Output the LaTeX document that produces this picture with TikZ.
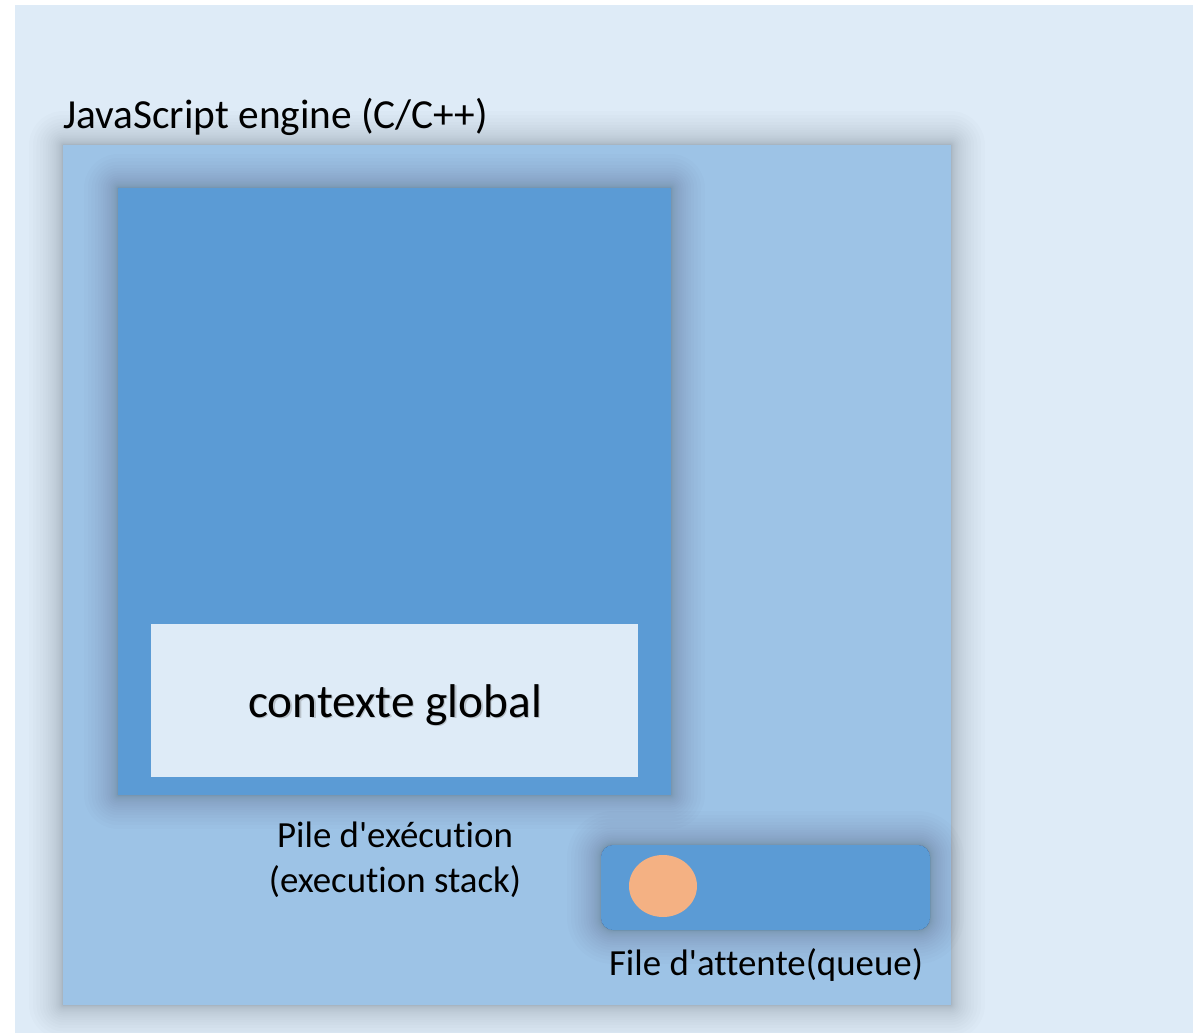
\documentclass[tikz,border=0pt]{standalone}
\usepackage{fontspec}
\setmainfont{Carlito}[Ligatures={NoCommon}]
\usetikzlibrary{shapes.geometric,calc}
\definecolor{bgblue}{HTML}{DEEBF7}
\definecolor{engineblue}{HTML}{9DC3E6}
\definecolor{stackblue}{HTML}{5B9BD5}
\definecolor{jobpeach}{HTML}{F4B183}

% soft glow drawn as stacked translucent rings around node #1;
% #2 = corner style of the node itself, #3 = its corner radius in bp
\newcommand\glowaround[3]{%
  \foreach \i in {1,...,22}{%
    \pgfmathsetmacro\d{34*(\i/22)^2.6}%
    \pgfmathsetmacro\r{#3+\d+0.5}%
    \fill[black, opacity=0.013, even odd rule]
      [rounded corners=\r bp]
      ($(#1.south west)+(-\d,\d)$) rectangle ($(#1.north east)+(\d,-\d)$)
      [#2]
      (#1.south west) rectangle (#1.north east);
  }%
}

\begin{document}
\begin{tikzpicture}[x=1bp,y=-1bp,
  panel/.style={rectangle, inner sep=0pt, outer sep=0pt, draw=none},
  caption/.style={inner sep=0pt, font=\fontsize{37}{45}\selectfont, align=center},
]
\useasboundingbox (0,0) rectangle (1193,1033);
\fill[bgblue] (15,5) rectangle (1193,1033);

% engine
\node[panel, fill=engineblue, minimum width=888bp, minimum height=860bp]
  (engine) at (507,575) {};
\glowaround{engine}{sharp corners}{0}
\node[anchor=base west, inner sep=0pt, font=\fontsize{41.5}{48}\selectfont]
  (enginetitle) at (63,128) {JavaScript engine (C/C++)};

% execution stack
\node[panel, fill=stackblue, minimum width=553bp, minimum height=607bp]
  (stack) at (394.5,491.5) {};
\glowaround{stack}{sharp corners}{0}
\node[panel, fill=bgblue, minimum width=487bp, minimum height=153bp]
  (global) at (394.5,700.5) {};
\node[text=black!60, opacity=0.3, font=\fontsize{47.5}{56}\selectfont, inner sep=0pt, anchor=base]
  (globalshade) at (396.5,718.5) {contexte global};
\node[font=\fontsize{47.5}{56}\selectfont, inner sep=0pt, anchor=base]
  (globaltext) at (395,717) {contexte global};
\node[caption, anchor=north] (stacklabel) at (395,822)
  {Pile d\textquotesingle exécution\\(execution stack)};

% queue
\node[panel, fill=stackblue, rounded corners=12bp,
  minimum width=329bp, minimum height=85bp] (queue) at (765.5,887.5) {};
\glowaround{queue}{rounded corners=12bp}{12}
\node[ellipse, fill=jobpeach, inner sep=0pt, minimum width=68bp, minimum height=62bp]
  (job) at (663,886) {};
\node[caption, anchor=base] (queuelabel) at (766,975) {File d\textquotesingle attente(queue)};
\end{tikzpicture}
\end{document}
